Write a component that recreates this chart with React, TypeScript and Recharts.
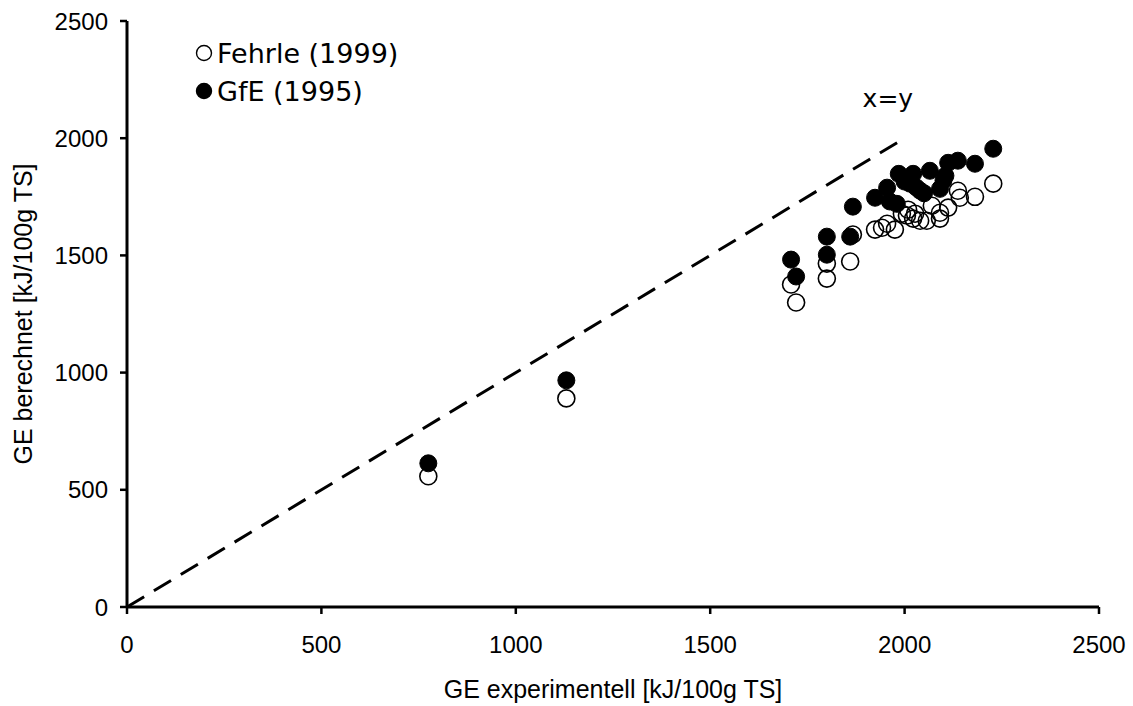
import React from "react";
import {
  ScatterChart,
  Scatter,
  XAxis,
  YAxis,
  ReferenceLine,
  ReferenceDot,
  Legend,
} from "recharts";

// Gross energy: measured vs. calculated (kJ/100g dry matter)
const fehrleX = [775, 1130, 1708, 1721, 1800, 1800, 1860, 1867, 1924, 1942, 1955, 1975, 1993, 2006, 2009, 2022, 2027, 2040, 2057, 2070, 2091, 2091, 2112, 2137, 2142, 2181, 2228];
const fehrleY = [558, 890, 1376, 1299, 1465, 1401, 1474, 1589, 1610, 1618, 1635, 1610, 1678, 1670, 1695, 1657, 1678, 1648, 1648, 1712, 1682, 1657, 1704, 1776, 1746, 1750, 1806];

const gfeX = [775, 1130, 1708, 1721, 1800, 1800, 1860, 1867, 1924, 1955, 1962, 1980, 1985, 2000, 2014, 2022, 2030, 2040, 2050, 2065, 2091, 2100, 2105, 2112, 2137, 2181, 2228];
const gfeY = [613, 967, 1482, 1410, 1580, 1503, 1580, 1708, 1746, 1789, 1730, 1720, 1848, 1815, 1806, 1848, 1790, 1776, 1765, 1861, 1784, 1820, 1840, 1895, 1904, 1891, 1955];

const axisTicks = [0, 500, 1000, 1500, 2000, 2500];
const identityEnds = [0, 1985];
const identityLabel = { x: 1957, y: 2172, text: "x=y" };

const fehrleData = fehrleX.map((x, i) => ({ x, y: fehrleY[i] }));
const gfeData = gfeX.map((x, i) => ({ x, y: gfeY[i] }));

const SANS = "'Liberation Sans', Arial, sans-serif";
const VERDANA = "'DejaVu Sans', Verdana, sans-serif";

const OpenDot = (p: any) => (
  <circle cx={p.cx} cy={p.cy} r={8.5} fill="none" stroke="#000" strokeWidth={1.6} />
);
const FilledDot = (p: any) => (
  <circle cx={p.cx} cy={p.cy} r={8.5} fill="#000" stroke="#000" strokeWidth={1} />
);

const legendItems = [
  { name: "Fehrle (1999)", filled: false },
  { name: "GfE (1995)", filled: true },
];

const LegendBox = () => (
  <div style={{ fontFamily: VERDANA, fontSize: 27, color: "#000", lineHeight: 1 }}>
    {legendItems.map((it) => (
      <div key={it.name} style={{ display: "flex", alignItems: "center", height: 38 }}>
        <svg width={20} height={20} style={{ marginRight: 3 }}>
          <circle
            cx={10}
            cy={10}
            r={7.5}
            fill={it.filled ? "#000" : "none"}
            stroke="#000"
            strokeWidth={1.4}
          />
        </svg>
        <span>{it.name}</span>
      </div>
    ))}
  </div>
);

const YTitle = (props: any) => {
  const vb = props.viewBox || { x: 0, y: 21, width: 127, height: 586 };
  const cx = vb.x + 32;
  const cy = vb.y + vb.height / 2;
  return (
    <text
      x={cx}
      y={cy}
      transform={`rotate(-90 ${cx} ${cy})`}
      textAnchor="middle"
      fontFamily={SANS}
      fontSize={25}
      fill="#000"
    >
      GE berechnet [kJ/100g TS]
    </text>
  );
};

export default function App() {
  return (
    <div style={{ position: "absolute", left: 0, top: 0, width: 1133, height: 706, background: "#fff" }}>
      <ScatterChart
        width={1133}
        height={706}
        margin={{ top: 21, right: 34, bottom: 0, left: 0 }}
      >
        <XAxis
          type="number"
          dataKey="x"
          domain={[0, 2500]}
          ticks={axisTicks}
          interval={0}
          allowDataOverflow
          height={99}
          axisLine={{ stroke: "#000", strokeWidth: 3 }}
          tickLine={{ stroke: "#000", strokeWidth: 2.5 }}
          tickSize={7}
          tickMargin={22}
          tick={{ fill: "#000", fontFamily: SANS, fontSize: 24 }}
          label={{
            value: "GE experimentell [kJ/100g TS]",
            position: "insideBottom",
            offset: 8,
            fill: "#000",
            fontFamily: SANS,
            fontSize: 25,
          }}
        />
        <YAxis
          type="number"
          dataKey="y"
          domain={[0, 2500]}
          ticks={axisTicks}
          interval={0}
          allowDataOverflow
          width={127}
          axisLine={{ stroke: "#000", strokeWidth: 3 }}
          tickLine={{ stroke: "#000", strokeWidth: 2.5 }}
          tickSize={7}
          tickMargin={12}
          tick={{ fill: "#000", fontFamily: SANS, fontSize: 24 }}
          label={<YTitle />}
        />
        <ReferenceLine
          segment={[
            { x: identityEnds[0], y: identityEnds[0] },
            { x: identityEnds[1], y: identityEnds[1] },
          ]}
          stroke="#000"
          strokeWidth={3}
          strokeDasharray="20 11.4"
          ifOverflow="visible"
        />
        <ReferenceDot
          x={identityLabel.x}
          y={identityLabel.y}
          r={0}
          fill="none"
          stroke="none"
          ifOverflow="visible"
          label={{
            value: identityLabel.text,
            position: "center",
            fill: "#000",
            fontFamily: VERDANA,
            fontSize: 25,
          }}
        />
        <Scatter
          name="Fehrle (1999)"
          data={fehrleData}
          shape={OpenDot}
          isAnimationActive={false}
        />
        <Scatter
          name="GfE (1995)"
          data={gfeData}
          shape={FilledDot}
          isAnimationActive={false}
        />
        <Legend
          layout="horizontal"
          verticalAlign="middle"
          align="center"
          content={<LegendBox />}
          wrapperStyle={{ top: 34, left: 194, width: 260, height: 76 }}
        />
      </ScatterChart>
    </div>
  );
}
